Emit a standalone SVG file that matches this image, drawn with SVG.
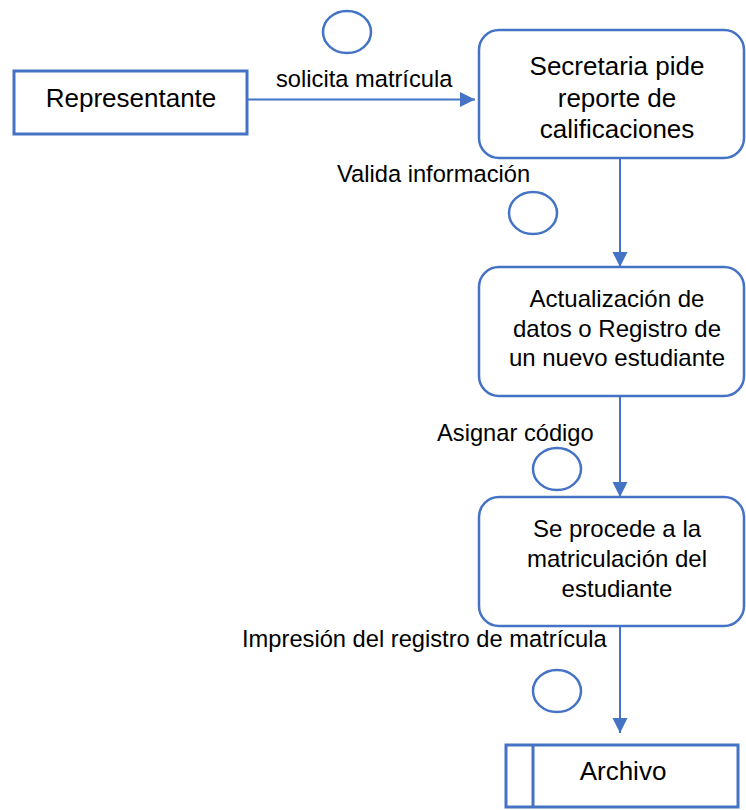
<svg xmlns="http://www.w3.org/2000/svg" width="746" height="810" viewBox="0 0 746 810">
<style>
.box{fill:#fff;stroke:#4472C4;stroke-width:3}
.rbox{fill:#fff;stroke:#4472C4;stroke-width:2.5}
.ev{fill:none;stroke:#4472C4;stroke-width:2.5}
.conn{fill:none;stroke:#4472C4;stroke-width:2}
text{font-family:"Liberation Sans",Arial,sans-serif;fill:#000}
.n26{font-size:26px;text-anchor:middle}
.n24{font-size:24px;text-anchor:middle}
.lbl{font-size:23.7px}
</style>
<defs>
<marker id="ah" markerUnits="userSpaceOnUse" markerWidth="16" markerHeight="16" refX="15" refY="7.5" orient="auto">
<path d="M0,0 L15,7.5 L0,15 Z" fill="#4472C4"/>
</marker>
</defs>
<g id="connectors">
<line class="conn" x1="247" y1="99.5" x2="475" y2="99.5" marker-end="url(#ah)"/>
<line class="conn" x1="620" y1="158" x2="620" y2="267" marker-end="url(#ah)"/>
<line class="conn" x1="620" y1="396" x2="620" y2="497" marker-end="url(#ah)"/>
<line class="conn" x1="620" y1="626" x2="620" y2="733" marker-end="url(#ah)"/>
</g>
<g id="labels">
<text class="lbl" x="276" y="87">solicita matrícula</text>
<text class="lbl" x="337" y="182">Valida información</text>
<text class="lbl" x="437" y="441">Asignar código</text>
<text class="lbl" x="242" y="647">Impresión del registro de matrícula</text>
</g>
<g id="events">
<ellipse class="ev" cx="347" cy="32" rx="24" ry="21"/>
<ellipse class="ev" cx="533" cy="213" rx="24" ry="21"/>
<ellipse class="ev" cx="557" cy="469" rx="24" ry="21"/>
<ellipse class="ev" cx="557" cy="691" rx="24" ry="21"/>
</g>
<g id="representante">
<rect class="box" x="14" y="71" width="233" height="63"/>
<text class="n26" x="131" y="107">Representante</text>
</g>
<g id="secretaria">
<rect class="rbox" x="479" y="30" width="265" height="128" rx="20"/>
<text class="n26" x="617" y="75" font-size="27">Secretaria pide</text>
<text class="n26" x="617" y="107" font-size="27">reporte de</text>
<text class="n26" x="617" y="138" font-size="27">calificaciones</text>
</g>
<g id="actualizacion">
<rect class="rbox" x="479" y="267" width="265" height="129" rx="20"/>
<text class="n24" x="617" y="307">Actualización de</text>
<text class="n24" x="617" y="337">datos o Registro de</text>
<text class="n24" x="617" y="366">un nuevo estudiante</text>
</g>
<g id="matriculacion">
<rect class="rbox" x="479" y="497" width="265" height="129" rx="20"/>
<text class="n24" x="617" y="537">Se procede a la</text>
<text class="n24" x="617" y="567">matriculación del</text>
<text class="n24" x="617" y="597">estudiante</text>
</g>
<g id="archivo">
<rect class="box" x="506" y="745" width="232" height="62"/>
<line class="box" x1="533" y1="745" x2="533" y2="807"/>
<text class="n26" x="623" y="780">Archivo</text>
</g>
</svg>
